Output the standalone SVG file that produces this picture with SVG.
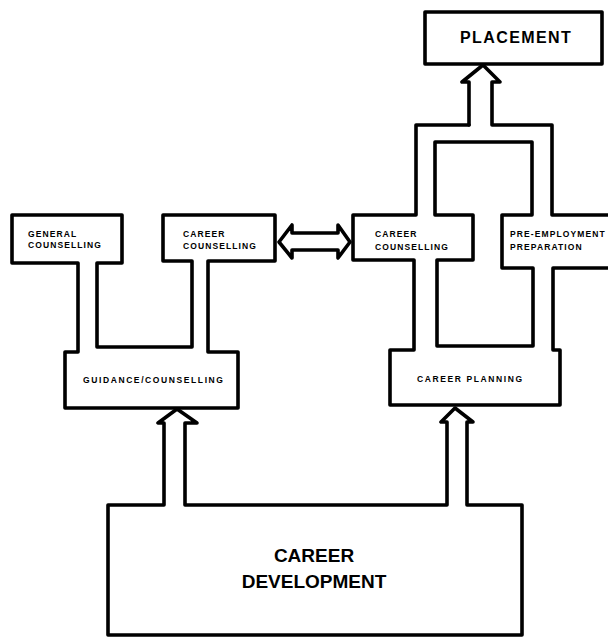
<svg xmlns="http://www.w3.org/2000/svg" width="608" height="638" viewBox="0 0 608 638">
  <style>
    .line { fill: none; stroke: #000; stroke-width: 3.6; stroke-linejoin: round; stroke-linecap: round; }
    .lbl { font-family: "Liberation Sans", Arial, sans-serif; font-weight: bold; fill: #000; }
    .small { font-size: 8.5px; letter-spacing: 1.1px; }
    .mid { font-size: 8.5px; letter-spacing: 1.6px; }
    .big { font-size: 19px; text-anchor: middle; }
    .top { font-size: 16px; letter-spacing: 1.4px; }
  </style>
  <rect width="608" height="638" fill="#fff"/>

  <!-- pipes and arrows joining the boxes -->
  <g id="connectors">
    <!-- double-headed arrow between the two counselling boxes -->
    <path class="line" d="M279,242 L292,225 L292,233 L338,233 L338,225 L350,242 L338,258 L338,250 L292,250 L292,258 Z"/>
    <!-- inner rim of the right-hand pipe loop -->
    <path class="line" d="M435,142 L435,215 L473,215 L473,260 L437,260 L437,346 L533,346 L533,268 L502,268 L502,215 L532,215 L532,142 Z"/>
  </g>

  <!-- left group: general / career counselling over guidance -->
  <g id="guidance">
    <path class="line" d="M78,352 L65,352 L65,408 L238,408 L238,352 L208,352 L208,261 L275,261 L275,215 L163,215 L163,261 L192,261 L192,347 L97,347 L97,263 L122,263 L122,215 L12,215 L12,263 L78,263 Z"/>
    <text class="lbl small" x="28" y="237">GENERAL</text>
    <text class="lbl small" x="28" y="248">COUNSELLING</text>
    <text class="lbl small" x="183" y="237">CAREER</text>
    <text class="lbl small" x="183" y="249">COUNSELLING</text>
    <text class="lbl mid" x="83" y="383">GUIDANCE/COUNSELLING</text>
  </g>

  <!-- right group: career planning feeding placement -->
  <g id="planning">
    <path class="line" d="M469,125 L416,125 L416,215 L353,215 L353,260 L414,260 L414,350 L390,350 L390,405 L560,405 L560,350 L553,350 L553,268 L612,268"/>
    <path class="line" d="M612,215 L552,215 L552,125 L492,125 L492,82 L500,82 L483,65 L462,82 L469,82 L469,125"/>
    <text class="lbl small" x="375" y="237">CAREER</text>
    <text class="lbl small" x="375" y="250">COUNSELLING</text>
    <text class="lbl small" x="510" y="237">PRE-EMPLOYMENT</text>
    <text class="lbl small" x="510" y="250">PREPARATION</text>
    <text class="lbl mid" x="417" y="382">CAREER PLANNING</text>
  </g>

  <g id="placement">
    <rect class="line" x="425" y="12" width="177" height="52"/>
    <text class="lbl top" x="460" y="43">PLACEMENT</text>
  </g>

  <!-- base box with its two upward arrows -->
  <g id="career-development">
    <path class="line" d="M164,423 L164,505 L108,505 L108,635 L522,635 L522,505 L467,505 L467,422 L473,422 L455,408 L441,422 L447,422 L447,505 L185,505 L185,423 L197,423 L177,409 L158,423 Z"/>
    <text class="lbl big" x="314" y="562">CAREER</text>
    <text class="lbl big" x="314" y="588">DEVELOPMENT</text>
  </g>
</svg>
